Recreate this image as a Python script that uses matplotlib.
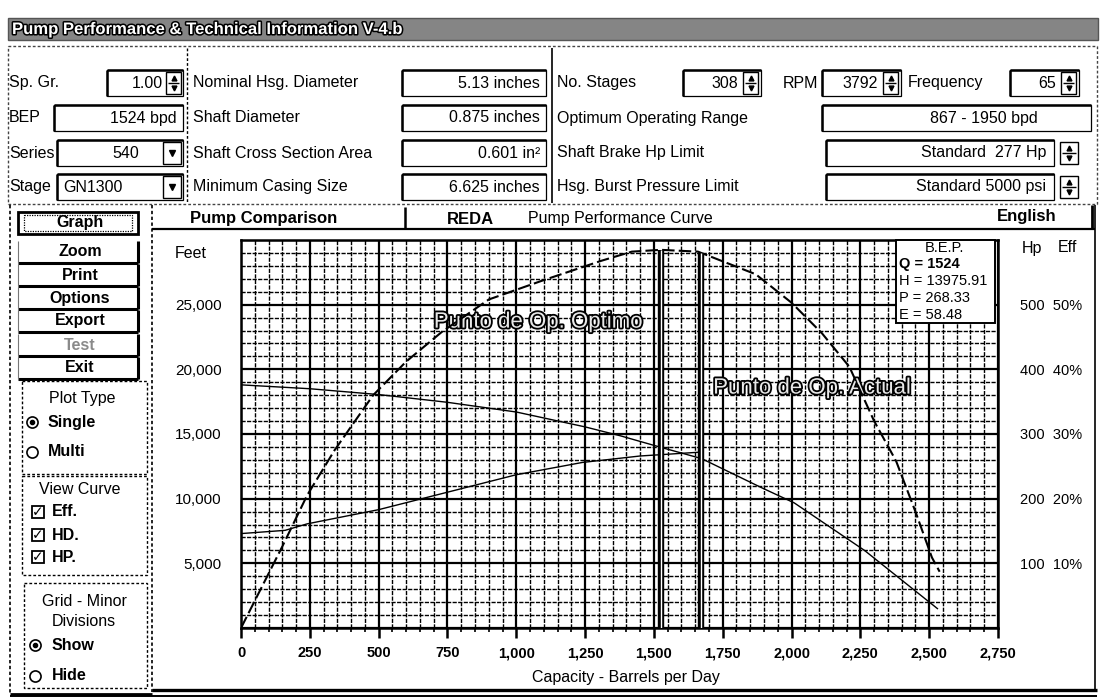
import numpy as np
import matplotlib
matplotlib.use('Agg')
import matplotlib.pyplot as plt
import matplotlib.patheffects as pe
from matplotlib.patches import Rectangle
from matplotlib.ticker import MultipleLocator, FixedLocator, FixedFormatter

plt.rcParams['font.family'] = ['Liberation Sans', 'DejaVu Sans']

# ---------------- data ----------------
head_q = [0, 250, 500, 750, 1000, 1250, 1380, 1524, 1673, 1890, 2010, 2265, 2530]
head_ft = [18800, 18500, 18050, 17450, 16700, 15550, 14850, 13976, 13100, 10860, 9670, 6000, 1500]

hp_q = [0, 160, 240, 500, 750, 1000, 1240, 1450, 1524, 1670]
hp_val = [146, 151, 161, 183, 210, 237, 256, 266, 268, 272]

eff_q = [0, 150, 240, 340, 480, 600, 730, 900, 1100, 1310, 1420, 1524, 1660,
         1870, 2000, 2110, 2210, 2300, 2380, 2450, 2510, 2538]
eff_val = [0, 12.6, 20.5, 27.5, 36.0, 41.2, 45.8, 50.8, 53.8, 56.8, 58.2, 58.48, 58.2,
           54.7, 50.3, 45.6, 40.4, 32.0, 25.8, 18.0, 10.9, 8.7]

bep_q = 1524
bep_h = 13975.91
bep_p = 268.33
bep_e = 58.48
actual_q = 1670

x_ticks = [0, 250, 500, 750, 1000, 1250, 1500, 1750, 2000, 2250, 2500, 2750]
x_tick_labels = ['0', '250', '500', '750', '1,000', '1,250', '1,500', '1,750',
                 '2,000', '2,250', '2,500', '2,750']
y_ticks = [0, 5000, 10000, 15000, 20000, 25000, 30000]
y_tick_labels = ['', '5,000', '10,000', '15,000', '20,000', '25,000', '']
hp_ticks = [100, 200, 300, 400, 500]
hp_tick_labels = ['100  10%', '200  20%', '300  30%', '400  40%', '500  50%']

label_optimo = 'Punto de Op. Optimo'
label_actual = 'Punto de Op. Actual'

# ---------------- figure & UI overlay ----------------
W, H = 1102, 699
fig = plt.figure(figsize=(W / 100, H / 100), dpi=100)
ui = fig.add_axes([0, 0, 1, 1])
ui.set_xlim(0, W)
ui.set_ylim(H, 0)
ui.axis('off')

FS = 11.5


def T(x, y, s, size=FS, weight='normal', ha='left', va='center', color='black', **kw):
    return ui.text(x, y, s, fontsize=size, fontweight=weight, ha=ha, va=va, color=color, **kw)


def box(x0, y0, x1, y1, lw=1.2, fc='none', ec='black', ls='-', z=2):
    ui.add_patch(Rectangle((x0, y0), x1 - x0, y1 - y0, fc=fc, ec=ec, lw=lw, ls=ls, zorder=z))


def ln(xs, ys, lw=1.2, ls='-', c='black', z=2):
    ui.plot(xs, ys, color=c, lw=lw, ls=ls, solid_capstyle='butt', zorder=z)


def field(x0, x1, yc, h=26):
    box(x0, yc - h / 2, x1, yc + h / 2, lw=0.9)
    ln([x0, x1], [yc - h / 2, yc - h / 2], lw=1.8)
    ln([x0, x0], [yc - h / 2, yc + h / 2], lw=1.8)


def spinner(x0, yc, w=15, h=22):
    box(x0, yc - h / 2, x0 + w, yc + h / 2, lw=1.0)
    ln([x0 + 2, x0 + w - 2], [yc, yc], lw=1.0)
    ui.plot([x0 + w / 2], [yc - 5], marker='^', ms=3.5, color='black', zorder=3)
    ui.plot([x0 + w / 2], [yc + 5], marker='v', ms=3.5, color='black', zorder=3)


def dropdown(x0, yc, w=18, h=22):
    box(x0, yc - h / 2, x0 + w, yc + h / 2, lw=1.0)
    ui.plot([x0 + w / 2], [yc], marker='v', ms=4.5, color='black', zorder=3)


# title bar
ui.add_patch(Rectangle((8, 18), 1090, 22, fc='#858585', ec='#555555', lw=1, zorder=1))
T(12, 29.5, 'Pump Performance & Technical Information V-4.b', size=12, weight='bold',
  color='white', path_effects=[pe.withStroke(linewidth=2.2, foreground='black')])

# top panel
box(8, 46, 1097, 204, lw=1.0, ec='#444444', ls=(0, (2, 1.5)))
ln([187, 187], [48, 203], lw=1.0, ls=(0, (2, 1.5)))
ln([552, 552], [48, 203], lw=1.2)

R = [83, 118, 153, 187]

# left column
T(9, R[0], 'Sp. Gr.')
field(107, 183, R[0])
T(163, R[0], '1.00', ha='right')
spinner(166, R[0])

T(9, R[1], 'BEP')
field(54, 183, R[1])
T(177, R[1], '1524 bpd', ha='right')

T(9, R[2], 'Series')
field(57, 183, R[2])
T(139, R[2], '540', ha='right')
dropdown(163, R[2])

T(9, R[3], 'Stage')
field(57, 183, R[3])
T(63, R[3], 'GN1300')
dropdown(163, R[3])

# second column
col2_labels = ['Nominal Hsg. Diameter', 'Shaft Diameter', 'Shaft Cross Section Area', 'Minimum Casing Size']
col2_values = ['5.13 inches', '0.875 inches', '0.601 in\u00b2', '6.625 inches']
for r, lab, val in zip(R, col2_labels, col2_values):
    T(193, r, lab)
    field(402, 546, r)
    T(540, r, val, ha='right')

# right column
T(557, R[0], 'No. Stages')
field(683, 761, R[0])
T(738, R[0], '308', ha='right')
spinner(743, R[0])
T(783, R[0], 'RPM')
field(822, 901, R[0])
T(878, R[0], '3792', ha='right')
spinner(883, R[0])
T(908, R[0], 'Frequency')
field(1010, 1079, R[0])
T(1056, R[0], '65', ha='right')
spinner(1061, R[0])

T(557, R[1], 'Optimum Operating Range')
field(822, 1091, R[1])
T(984, R[1], '867 - 1950 bpd', ha='center')

T(557, R[2], 'Shaft Brake Hp Limit')
field(826, 1054, R[2])
T(1046, R[2], 'Standard  277 Hp', ha='right')
spinner(1060, R[2], w=18)

T(557, R[3], 'Hsg. Burst Pressure Limit')
field(826, 1054, R[3])
T(1046, R[3], 'Standard 5000 psi', ha='right')
spinner(1060, R[3], w=18)

# left button panel
ln([10, 10], [205, 694], lw=1.2, ls=(0, (2, 1.5)))
ln([152, 152], [205, 692], lw=1.2, ls=(0, (2, 1.5)))
ln([10, 152], [694, 694], lw=2.0)

buttons = ['Graph', 'Zoom', 'Print', 'Options', 'Export', 'Test', 'Exit']
btn_y = [223, 252, 275, 298, 321, 345, 368]
for name, yc in zip(buttons, btn_y):
    h = 22
    if name == 'Graph':
        box(18, yc - h / 2, 138, yc + h / 2, lw=2.0)
        box(24, yc - h / 2 + 3, 132, yc + h / 2 - 3, lw=0.9, ls=(0, (1, 1)))
    else:
        ln([18, 138], [yc + h / 2, yc + h / 2], lw=2.2)
        ln([138, 138], [yc - h / 2, yc + h / 2], lw=2.2)
        ln([18, 18], [yc - h / 2, yc + h / 2], lw=0.8, c='#777777')
    T(80, yc, name, weight='bold', ha='center',
      color='#8a8a8a' if name == 'Test' else 'black')

# Plot type group
box(22, 381, 147, 474, lw=1.0, ls=(0, (2, 1.5)))
T(82, 399, 'Plot Type', ha='center')
ui.plot([32], [422], marker='o', ms=8, mfc='white', mec='black', mew=1.2, zorder=3)
ui.plot([32], [422], marker='o', ms=3, color='black', zorder=4)
T(48, 422, 'Single', weight='bold')
ui.plot([32], [452], marker='o', ms=8, mfc='white', mec='black', mew=1.2, zorder=3)
T(48, 452, 'Multi', weight='bold')

# View curve group
box(22, 476, 147, 575, lw=1.0, ls=(0, (2, 1.5)))
T(80, 490, 'View Curve', ha='center')
for yc, nm in zip([512, 535, 557], ['Eff.', 'HD.', 'HP.']):
    ui.plot([38], [yc], marker='s', ms=9, mfc='white', mec='black', mew=1.3, zorder=3)
    ui.text(38, yc, '\u2713', fontsize=10, fontweight='bold', ha='center', va='center',
            family='DejaVu Sans', zorder=4)
    T(52, yc, nm, weight='bold')

# Grid group
box(24, 583, 147, 688, lw=1.0, ls=(0, (2, 1.5)))
T(84, 601, 'Grid - Minor', ha='center')
T(84, 621, 'Divisions', ha='center')
ui.plot([35], [645], marker='o', ms=8, mfc='white', mec='black', mew=1.2, zorder=3)
ui.plot([35], [645], marker='o', ms=3, color='black', zorder=4)
T(52, 645, 'Show', weight='bold')
ui.plot([35], [676], marker='o', ms=8, mfc='white', mec='black', mew=1.2, zorder=3)
T(52, 676, 'Hide', weight='bold')

# chart panel frame and tabs
ln([152, 1095], [229, 229], lw=1.6)
ln([405, 405], [207, 229], lw=1.8)
ln([1092, 1092], [205, 229], lw=2.0)
ln([1095, 1095], [205, 690], lw=1.2)
ln([152, 1097], [690, 690], lw=2.4)
ln([10, 1097], [696, 696], lw=1.4)
T(190, 219, 'Pump Comparison', weight='bold', size=12)
T(447, 219, 'REDA', weight='bold', size=12)
T(528, 219, 'Pump Performance Curve', size=11.5)
T(997, 216, 'English', weight='bold', size=12)

T(175, 254, 'Feet')
T(1022, 248, 'Hp')
T(1058, 248, 'Eff')

# ---------------- chart ----------------
AX_L, AX_R, AX_T, AX_B = 241, 998, 240, 628
ax = fig.add_axes([AX_L / W, (H - AX_B) / H, (AX_R - AX_L) / W, (AX_B - AX_T) / H])
ax.set_facecolor('white')
ax.set_xlim(0, 2750)
ax.set_ylim(0, 30000)

ax.xaxis.set_major_locator(FixedLocator(x_ticks))
ax.xaxis.set_major_formatter(FixedFormatter(x_tick_labels))
ax.xaxis.set_minor_locator(MultipleLocator(50))
ax.yaxis.set_major_locator(FixedLocator(y_ticks))
ax.yaxis.set_major_formatter(FixedFormatter(y_tick_labels))
ax.yaxis.set_minor_locator(MultipleLocator(1000))

ax.grid(which='major', color='black', lw=1.6, ls='-')
ax.grid(which='minor', color='black', lw=1.0, ls=(0, (3, 1)))
for s in ax.spines.values():
    s.set_linewidth(1.8)

ax.tick_params(axis='x', which='major', direction='out', length=7, width=1.8, pad=6,
               labelsize=10.5)
ax.tick_params(axis='x', which='minor', direction='out', length=3, width=1.2)
ax.tick_params(axis='y', which='both', length=0, pad=14, labelsize=11)
for lab in ax.get_xticklabels():
    lab.set_fontweight('bold')
ax.set_xlabel('Capacity - Barrels per Day', fontsize=11.5)
ax.xaxis.set_label_coords((626 - AX_L) / (AX_R - AX_L), -(670 - AX_B) / (AX_B - AX_T))

ax.plot(head_q, head_ft, color='black', lw=1.0, zorder=3)

ax_hp = ax.twinx()
ax_hp.set_ylim(0, 600)
ax_hp.yaxis.set_major_locator(FixedLocator(hp_ticks))
ax_hp.yaxis.set_major_formatter(FixedFormatter(hp_tick_labels))
ax_hp.tick_params(axis='y', length=0, pad=16, labelsize=10.5)
for s in ax_hp.spines.values():
    s.set_visible(False)
ax_hp.plot(hp_q, hp_val, color='black', lw=1.0, zorder=3)

ax_eff = ax.twinx()
ax_eff.set_ylim(0, 60)
ax_eff.set_yticks([])
for s in ax_eff.spines.values():
    s.set_visible(False)
ax_eff.plot(eff_q, eff_val, color='black', lw=1.5, ls=(0, (6, 2)), zorder=3)

# operating point lines
act_e = np.interp(actual_q, eff_q, eff_val)
for q, e in [(bep_q, bep_e), (actual_q, act_e)]:
    ax_eff.plot([q, q], [0, e], color='black', lw=4.6, solid_capstyle='butt', zorder=4)
    ax_eff.plot([q, q], [0, e], color='white', lw=1.0, solid_capstyle='butt', zorder=5)

outline = [pe.withStroke(linewidth=2.6, foreground='black')]
ax.annotate(label_optimo, xy=(bep_q, 23650), xytext=(-13, 0), textcoords='offset points',
            ha='right', va='center', fontsize=16, color='#e8e8e8', path_effects=outline,
            zorder=6)
ax.annotate(label_actual, xy=(actual_q, 18550), xytext=(9, 0), textcoords='offset points',
            ha='left', va='center', fontsize=16, color='#e8e8e8', path_effects=outline,
            zorder=6)

# B.E.P. box
fx = lambda px: (px - AX_L) / (AX_R - AX_L)
fy = lambda py: (AX_B - py) / (AX_B - AX_T)
ax_eff.add_patch(Rectangle((fx(896), fy(323)), fx(995) - fx(896), fy(240) - fy(323),
                           transform=ax_eff.transAxes, fc='white', ec='black', lw=1.4,
                           zorder=8, clip_on=False))
tk = dict(transform=ax_eff.transAxes, fontsize=10.5, va='center', zorder=9, clip_on=False)
ax_eff.text(fx(944), fy(248), 'B.E.P.', ha='center', **tk)
ax_eff.text(fx(899), fy(264), f'Q = {bep_q}', ha='left', fontweight='bold', **tk)
ax_eff.text(fx(899), fy(281), f'H = {bep_h:.2f}', ha='left', **tk)
ax_eff.text(fx(899), fy(298), f'P = {bep_p:.2f}', ha='left', **tk)
ax_eff.text(fx(899), fy(315), f'E = {bep_e:.2f}', ha='left', **tk)

fig.savefig('out.png', dpi=100)
